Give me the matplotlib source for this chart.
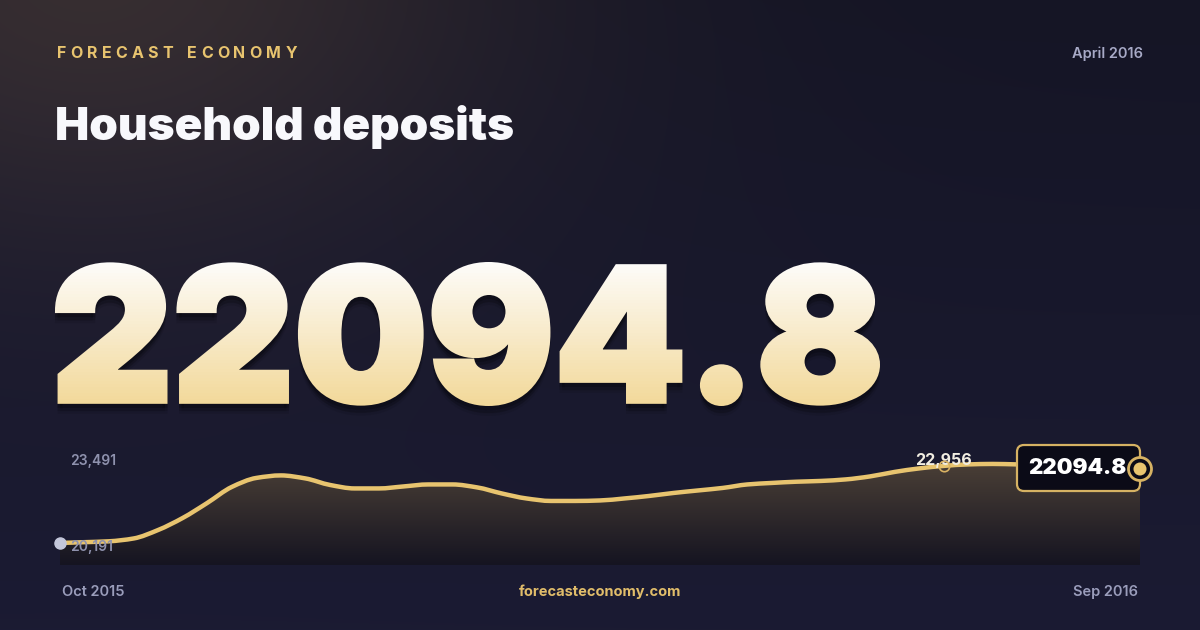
import numpy as np
import matplotlib as mpl
mpl.use("Agg")
from matplotlib import pyplot as plt
from matplotlib.textpath import TextPath
from matplotlib.font_manager import FontProperties
from matplotlib.patches import PathPatch, FancyBboxPatch, Circle, Rectangle
from matplotlib.path import Path

# chart text
brand = "FORECAST ECONOMY"
title = "Household deposits"
date_label = "April 2016"
headline = "22094.8"
site = "forecasteconomy.com"
start_label = "Oct 2015"
end_label = "Sep 2016"
axis_top_label = "23,491"
axis_bottom_label = "20,191"

# series (evenly spaced, Oct 2015 -> Sep 2016)
values = [20191, 20220, 20252, 20353, 20658, 21089, 21628, 22202, 22525, 22615,
          22507, 22273, 22148, 22148, 22220, 22291, 22291, 22184, 21968, 21789,
          21699, 21699, 21717, 21789, 21878, 21986, 22076, 22166, 22291, 22345,
          22389, 22417, 22471, 22579, 22740, 22866, 22956, 23010, 23027, 23010,
          22991, 22973, 22938, 22902, 22848]
y_min = 19401
y_max = 23491
highlight_index = 36
highlight_label = "22,956"
latest_label = "22094.8"

GOLD = "#e8c46f"
MUTED = "#8f92ae"

plt.rcParams['font.family'] = ['Inter', 'DejaVu Sans']

W, H = 1200, 630
fig = plt.figure(figsize=(12, 6.3), dpi=100)


def monotone_bezier(xs, ys):
    # cubic bezier vertices through the points (monotone tangents, like d3 curveMonotoneX)
    xs = np.asarray(xs, float)
    ys = np.asarray(ys, float)
    h = np.diff(xs)
    d = np.diff(ys) / h
    m = np.zeros_like(ys)
    m[0], m[-1] = d[0], d[-1]
    for i in range(1, len(ys) - 1):
        if d[i - 1] * d[i] <= 0:
            m[i] = 0
        else:
            m[i] = 2 / (1 / d[i - 1] + 1 / d[i])
    verts = [(xs[0], ys[0])]
    codes = [Path.MOVETO]
    for i in range(len(xs) - 1):
        verts += [(xs[i] + h[i] / 3, ys[i] + m[i] * h[i] / 3),
                  (xs[i + 1] - h[i] / 3, ys[i + 1] - m[i + 1] * h[i] / 3),
                  (xs[i + 1], ys[i + 1])]
        codes += [Path.CURVE4] * 3
    return verts, codes


# full-canvas axes in pixel coordinates (y down)
bg = fig.add_axes([0, 0, 1, 1])
bg.set_xlim(0, W)
bg.set_ylim(H, 0)
bg.axis('off')

# background: navy gradient with faint warm glow top-left
yy, xx = np.mgrid[0:H, 0:W]
base_top = np.array([21, 21, 37]) / 255
base_bot = np.array([27, 27, 51]) / 255
t = (yy / H)[..., None]
img = base_top * (1 - t) + base_bot * t
glow = np.exp(-(((xx - 90) ** 2) / (2 * 300 ** 2) + ((yy + 40) ** 2) / (2 * 200 ** 2)))[..., None]
img = img + glow * (np.array([34, 25, 12]) / 255)
bg.imshow(np.clip(img, 0, 1), extent=(0, W, H, 0), origin='upper', aspect='auto', zorder=0)
bg.set_xlim(0, W)
bg.set_ylim(H, 0)

# letter-spaced brand line
renderer = fig.canvas.get_renderer()
x = 57
for ch in brand:
    if ch == ' ':
        x += 10
        continue
    tx = bg.text(x, 53, ch, color=GOLD, fontsize=11.5, fontweight='bold', va='center', ha='left')
    x += tx.get_window_extent(renderer).width + 4.2

bg.text(1143, 54, date_label, color="#a7a9c6", fontsize=10.5, fontweight='semibold',
        ha='right', va='center')
bg.text(55, 140, title, color="#f8f8fc", fontsize=33, fontweight='black',
        ha='left', va='baseline')

# headline number: text path stretched to box, thickened, filled in gradient bands
stroke = 5.0  # px of extra weight
fp = FontProperties(family=['Inter', 'DejaVu Sans'], weight='black')
tp = TextPath((0, 0), headline, size=100, prop=fp)
ext = tp.get_extents()
half = stroke / 2
box_l, box_r, box_t, box_b = 55 + half, 880 - half, 262 + half, 406 - half
verts = tp.vertices.copy()
verts[:, 0] = box_l + (verts[:, 0] - ext.x0) * (box_r - box_l) / ext.width
verts[:, 1] = box_b - (verts[:, 1] - ext.y0) * (box_b - box_t) / ext.height
lw_pt = stroke * 72 / 100

for dy, a in [(10, 0.08), (7, 0.12), (4, 0.16)]:
    sh = Path(verts + np.array([0, dy]), tp.codes)
    bg.add_patch(PathPatch(sh, facecolor='black', edgecolor='black', lw=lw_pt,
                           alpha=a, zorder=2))

num_path = Path(verts, tp.codes)
top_c = np.array([253, 252, 250]) / 255
bot_c = np.array([242, 216, 152]) / 255
band = 3
for y0 in range(255, 414, band):
    f = np.clip((y0 + band / 2 - 262) / (406 - 262), 0, 1)
    col = top_c * (1 - f) + bot_c * f
    p = PathPatch(num_path, facecolor=col, edgecolor=col, lw=lw_pt, zorder=3)
    bg.add_patch(p)
    p.set_clip_path(Rectangle((0, y0 - 0.4), W, band + 0.8, transform=bg.transData))

# sparkline axes
ax = fig.add_axes([60 / W, (H - 565) / H, 1080 / W, (565 - 451) / H])
ax.set_xlim(0, len(values) - 1)
ax.set_ylim(y_min, y_max)
ax.axis('off')
idx = np.arange(len(values))

line_verts, line_codes = monotone_bezier(idx, values)
area_path = Path(line_verts + [(idx[-1], y_min), (idx[0], y_min), (idx[0], values[0])],
                 line_codes + [Path.LINETO, Path.LINETO, Path.CLOSEPOLY])
ag = np.linspace(0, 1, 256)[:, None, None]
a_top = np.array([74, 63, 54]) / 255
a_bot = np.array([21, 20, 33]) / 255
area_img = a_top * (1 - ag) + a_bot * ag
area_img = np.repeat(area_img, 2, axis=1)
aim = ax.imshow(area_img, extent=(0, len(values) - 1, y_min, max(values)), origin='upper',
                aspect='auto', zorder=1)
aim.set_clip_path(area_path, transform=ax.transData)
ax.set_xlim(0, len(values) - 1)
ax.set_ylim(y_min, y_max)

ax.add_patch(PathPatch(Path(line_verts, line_codes), facecolor='none', edgecolor=GOLD,
                       lw=3.2, capstyle='round', joinstyle='round', zorder=3, clip_on=False))

# start dot
ax.plot([0], [values[0]], 'o', color="#c4c7db", markersize=8, zorder=4, clip_on=False)

# highlighted point
ax.annotate(highlight_label, (highlight_index, values[highlight_index]), xytext=(0, 4),
            textcoords='offset points', ha='center', va='center', color="#f1ede2",
            fontsize=11.5, fontweight='bold', zorder=5, annotation_clip=False)
ax.plot([highlight_index], [values[highlight_index]], 'o', markerfacecolor='none',
        markeredgecolor="#d9b263", markeredgewidth=1.2, markersize=7.5, zorder=6, clip_on=False)

# overlay axes for labels drawn on top of the line
top = fig.add_axes([0, 0, 1, 1])
top.set_xlim(0, W)
top.set_ylim(H, 0)
top.axis('off')
top.patch.set_alpha(0)

# axis extremes
top.text(70, 461, axis_top_label, color=MUTED, fontsize=10, fontweight='semibold', va='center')
top.text(70, 547, axis_bottom_label, color=MUTED, fontsize=10, fontweight='semibold', va='center')

# latest value box
top.add_patch(FancyBboxPatch((1017 + 7, 445 + 7), 123 - 14, 46 - 14,
                             boxstyle="round,pad=7", facecolor="#0b0b17", edgecolor="#d6b263",
                             lw=1.6, zorder=7))
top.text(1077, 468, latest_label, color='white', fontsize=16, fontweight='black',
         ha='center', va='center', zorder=8)
ex, ey = 1140, 469
top.add_patch(Circle((ex, ey), 11.5, facecolor="#0b0b17", edgecolor="#d6b263", lw=2, zorder=9))
top.add_patch(Circle((ex, ey), 6.5, facecolor=GOLD, edgecolor='none', zorder=10))

# footer
top.text(62, 592, start_label, color="#9a9dbb", fontsize=10.5, fontweight='semibold', va='center')
top.text(1138, 592, end_label, color="#9a9dbb", fontsize=10.5, fontweight='semibold',
         va='center', ha='right')
top.text(600, 592, site, color="#e1bd6a", fontsize=10.5, fontweight='bold', va='center', ha='center')

fig.savefig("out.png", dpi=100)
